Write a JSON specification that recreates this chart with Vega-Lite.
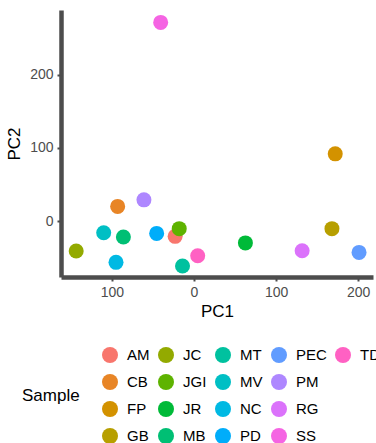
{
  "$schema": "https://vega.github.io/schema/vega-lite/v6.json",
  "width": 312,
  "height": 267,
  "autosize": {"type": "none"},
  "padding": {"left": 61, "top": 10, "right": 3, "bottom": 166},
  "background": "white",
  "config": {
    "view": {"stroke": null},
    "font": "Liberation Sans",
    "axis": {
      "grid": false,
      "domainColor": "#4D4D4D",
      "domainWidth": 4.5,
      "tickColor": "#4D4D4D",
      "tickWidth": 2,
      "tickSize": 4,
      "labelColor": "#4D4D4D",
      "labelFont": "Liberation Sans",
      "labelFontSize": 14,
      "labelPadding": 4,
      "titleFont": "Liberation Sans",
      "titleFontSize": 17,
      "titleFontWeight": "normal",
      "titleColor": "#000000"
    },
    "legend": {
      "labelFont": "Liberation Sans",
      "titleFont": "Liberation Sans"
    }
  },
  "data": {
    "values": [
      {"Sample": "AM", "PC1": -23, "PC2": -21},
      {"Sample": "CB", "PC1": -93, "PC2": 20},
      {"Sample": "FP", "PC1": 172, "PC2": 92},
      {"Sample": "GB", "PC1": 168, "PC2": -10.5},
      {"Sample": "JC", "PC1": -143.5, "PC2": -41},
      {"Sample": "JGI", "PC1": -18, "PC2": -10.5},
      {"Sample": "JR", "PC1": 62.6, "PC2": -30},
      {"Sample": "MB", "PC1": -86, "PC2": -22},
      {"Sample": "MT", "PC1": -14, "PC2": -61.6},
      {"Sample": "MV", "PC1": -110, "PC2": -16},
      {"Sample": "NC", "PC1": -95, "PC2": -56.6},
      {"Sample": "PD", "PC1": -45.5, "PC2": -17},
      {"Sample": "PEC", "PC1": 201, "PC2": -43},
      {"Sample": "PM", "PC1": -61, "PC2": 29},
      {"Sample": "RG", "PC1": 131.7, "PC2": -40.7},
      {"Sample": "SS", "PC1": -40.6, "PC2": 272},
      {"Sample": "TD", "PC1": 4.5, "PC2": -47.5}
    ]
  },
  "mark": {"type": "point", "filled": true, "opacity": 1, "size": 225, "shape": "circle"},
  "encoding": {
    "x": {
      "field": "PC1",
      "type": "quantitative",
      "title": "PC1",
      "scale": {"domain": [-162, 218], "nice": false, "zero": false},
      "axis": {"values": [-100, 0, 100, 200], "labelExpr": "format(abs(datum.value), 'd')", "titlePadding": 4}
    },
    "y": {
      "field": "PC2",
      "type": "quantitative",
      "title": "PC2",
      "scale": {"domain": [-76.7, 289], "nice": false, "zero": false},
      "axis": {"values": [0, 100, 200], "titlePadding": 6}
    },
    "color": {
      "field": "Sample",
      "type": "nominal",
      "title": "Sample",
      "scale": {
        "domain": ["AM", "CB", "FP", "GB", "JC", "JGI", "JR", "MB", "MT", "MV", "NC", "PD", "PEC", "PM", "RG", "SS", "TD", "_1", "_2", "_3"],
        "range": ["#F8766D", "#E88526", "#D39200", "#B79F00", "#93AA00", "#5EB300", "#00BA38", "#00BF74", "#00C19F", "#00BFC4", "#00B9E3", "#00ADFA", "#619CFF", "#AE87FF", "#DB72FB", "#F564E3", "#FF61C3", "rgba(0,0,0,0)", "rgba(0,0,0,0)", "rgba(0,0,0,0)"]
      },
      "legend": {
        "orient": "none",
        "direction": "vertical",
        "legendX": -39,
        "legendY": 337,
        "columns": 5,
        "titleOrient": "left",
        "titleAnchor": "middle",
        "titleBaseline": "middle",
        "titleFontSize": 17,
        "titleFontWeight": "normal",
        "titleColor": "#000000",
        "titlePadding": 22,
        "labelFontSize": 15,
        "labelColor": "#000000",
        "labelOffset": 9,
        "labelExpr": "indexof(datum.label, '_') == 0 ? '' : datum.label",
        "symbolSize": 256,
        "symbolType": "circle",
        "symbolOpacity": 1,
        "symbolStrokeWidth": 0,
        "rowPadding": 11,
        "columnPadding": 8
      }
    }
  }
}
